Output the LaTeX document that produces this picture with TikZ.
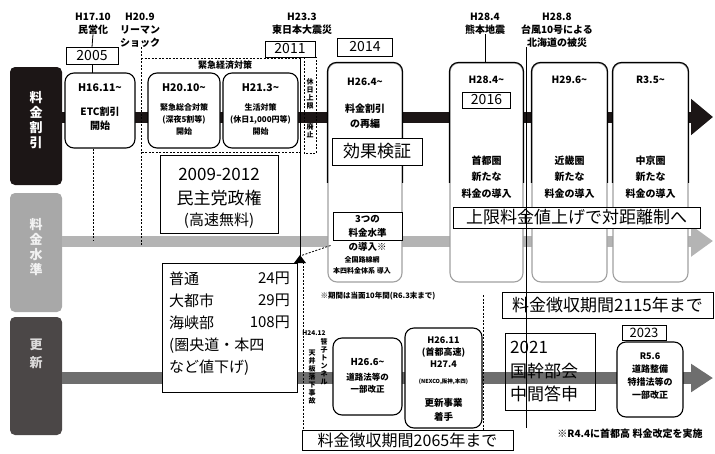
\documentclass[tikz,border=0pt]{standalone}
\usepackage{fontspec}
\setmainfont{Noto Sans CJK JP}
\usetikzlibrary{arrows.meta}
\newcommand\fsz[1]{\fontsize{#1}{#1}\selectfont}
\definecolor{labA}{HTML}{1C1616}
\definecolor{labB}{HTML}{A8A8A8}
\definecolor{labC}{HTML}{4B4747}
\definecolor{arrB}{HTML}{B4B4B4}
\definecolor{arrC}{HTML}{6E6E6E}
\definecolor{edgeG}{HTML}{A0A0A0}
\begin{document}
\begin{tikzpicture}[x=1pt,y=-1pt,
  wh/.style 2 args={minimum width=#1pt, minimum height=#2pt},
  lab/.style={rounded corners=5pt, minimum width=52pt, inner sep=0pt},
  year/.style={draw, line width=1pt, fill=white, inner sep=0pt, font=\fsz{14}},
  rb/.style={draw, line width=1.1pt, rounded corners=9pt, fill=white, inner sep=0pt},
  sq/.style={draw, line width=1pt, fill=white, inner sep=0pt},
  t/.style={inner sep=0pt, font=\bfseries\fontsize{9}{11.5}\selectfont, align=center},
  hd/.style={inner sep=0pt, font=\bfseries\fontsize{10}{13}\selectfont, align=center},
  big/.style={inner sep=0pt, font=\fsz{17}},
  dsh/.style={dash pattern=on 2pt off 1.5pt, line width=0.9pt},
  vt/.style={inner sep=0pt, font=\bfseries\fontsize{7}{8}\selectfont, align=center}
]
\useasboundingbox (0,0) rectangle (715,453);

% row labels
\node[lab, fill=labA, minimum height=118pt] (L1) at (36,126) {};
\node[text=white, font=\bfseries\fontsize{13}{15}\selectfont, align=center] (L1t) at (36,120) {料\\金\\割\\引};
\node[lab, fill=labB, minimum height=119pt] (L2) at (36,252.5) {};
\node[text=white!85!labB, font=\bfseries\fontsize{13}{15}\selectfont, align=center] (L2t) at (36,247) {料\\金\\水\\準};
\node[lab, fill=labC, minimum height=118pt] (L3) at (36,376) {};
\node[text=white!80!labC, font=\bfseries\fontsize{13}{18}\selectfont, align=center] (L3t) at (36,354) {更\\新};

% row arrows
\coordinate (a1e) at (713,117);
\coordinate (a2e) at (713,241);
\coordinate (a3e) at (713,378);
\draw[line width=11pt, labA, -{Triangle[length=22pt,width=35pt]}] (L1.east |- a1e) -- (a1e);
\draw[line width=11pt, arrB, -{Triangle[length=22pt,width=30pt]}] (L2.east |- a2e) -- (a2e);
\draw[line width=12pt, arrC, -{Triangle[length=22pt,width=27pt]}] (L3.east |- a3e) -- (a3e);

% header events
\node[hd] (h1) at (93,23.5) {H17.10\\民営化};
\node[hd] (h2) at (140,30) {H20.9\\リーマン\\ショック};
\node[hd] (h3) at (302,23.5) {H23.3\\東日本大震災};
\node[hd] (h4) at (485,23.5) {H28.4\\熊本地震};
\node[hd] (h5) at (557,30) {H28.8\\台風10号による\\北海道の被災};

% dashed period lines
\coordinate (d1e) at (141,245);
\draw[dsh] (h2.south -| d1e) -- (d1e);
\coordinate (d2e) at (93,240);
\coordinate (d3s) at (303,262);
\coordinate (d3e) at (303,430);
\draw[dsh] (d3s) -- (d3e);
\coordinate (d4s) at (483,295);
\coordinate (d4e) at (483,430);
\draw[dsh] (d4s) -- (d4e);

% emergency measures frame
\draw[dsh] (141,58) -- (300,58) -- (300,152) -- (141,152);
\node[t, font=\bfseries\fsz{9}] (kinkyu) at (225,65) {緊急経済対策};

% 2005 and ETC
\node[year, wh={52}{17}] (y05) at (92,56) {2005};
\draw[line width=0.8pt] (h1.south) -- (y05.north);
\node[rb, wh={70}{75}] (etc) at (100,110.5) {};
\draw[line width=0.8pt] (y05.south -| etc.north) ++(-8,0) -- ++(0,8);
\draw[dsh] (etc.south -| d2e) -- (d2e);
\node[t, font=\bfseries\fsz{10.5}] (etc1) at (100,88) {H16.11\textasciitilde};
\node[t, font=\bfseries\fontsize{10}{13.5}\selectfont] (etc2) at (100,119) {ETC割引\\開始};

\node[rb, wh={72}{75}] (b2010) at (184,110.5) {};
\node[t, font=\bfseries\fsz{10.5}] (b2010a) at (184,88) {H20.10\textasciitilde};
\node[t, font=\bfseries\fontsize{8}{12}\selectfont] (b2010b) at (184,119) {緊急総合対策\\(深夜5割等)\\開始};
\node[rb, wh={75}{75}] (b2103) at (260.5,110.5) {};
\node[t, font=\bfseries\fsz{10.5}] (b2103a) at (260.5,88) {H21.3\textasciitilde};
\node[t, font=\bfseries\fontsize{8}{12}\selectfont] (b2103b) at (260.5,119) {生活対策\\(休日1,000円等)\\開始};

% 2011
\node[year, wh={50}{16}] (y11) at (290,49) {2011};
\draw[dsh] (304,57) rectangle (316,153);
\node[vt, font=\bfseries\fontsize{7}{7.8}\selectfont] (kyu) at (310,94) {休\\日\\上\\限};
\node[vt, font=\bfseries\fontsize{7}{7.8}\selectfont] (haishi) at (310,131) {廃\\止};
\node[sq, wh={118}{78}] (minshu) at (219,194) {};
\node[big] (m1) at (219,174) {2009-2012};
\node[big] (m2) at (219,198) {民主党政権};
\node[big, font=\fsz{15}] (m3) at (219,221) {(高速無料)};

% fee levels box
\node[sq, wh={135}{129}] (futsu) at (229.5,327.5) {};
\node[inner sep=0pt, font=\fontsize{15}{22}\selectfont, align=left, anchor=north west] (f1) at (169,272) {普通\\大都市\\海峡部};
\node[inner sep=0pt, font=\fontsize{15}{22}\selectfont, align=right, anchor=north east] (f2) at (290,272) {24円\\29円\\108円};
\node[inner sep=0pt, font=\fontsize{15}{22}\selectfont, align=left, anchor=north west] (f3) at (169,338) {(圏央道・本四\\など値下げ)};
\coordinate (tri) at (300,256);
\draw[line width=0.9pt] (y11.south -| tri) -- (tri);
\fill (tri) ++(0,-1) -- ++(6,8) -- ++(-12,0) -- cycle;

% 2014
\node[year, wh={55}{18}] (y14) at (365,47) {2014};
\node[rb, draw=edgeG, wh={74}{219}] (b14) at (365,172.5) {};
\begin{scope}
\clip (320,0) rectangle (715,182);
\draw[line width=1.1pt, rounded corners=9pt] (b14.south west) rectangle (b14.north east);
\end{scope}
\node[t, font=\bfseries\fsz{10}] (b14a) at (365,82) {H26.4\textasciitilde};
\node[t, font=\bfseries\fontsize{10}{15}\selectfont] (b14b) at (365,116) {料金割引\\の再編};
\node[sq, wh={90}{27}] (kouka) at (377,151.5) {};
\node[big] (kouka1) at (377,151.5) {効果検証};
\node[sq, wh={69}{28}] (ps3) at (367.5,226) {};
\node[t, font=\bfseries\fontsize{9.5}{14}\selectfont] (ps3a) at (367.5,233) {3つの\\料金水準\\の導入※};
\node[t, font=\bfseries\fontsize{7}{11}\selectfont] (ps3b) at (362,265.5) {全国路線網\\本四料金体系 導入};
\draw[dsh, line width=0.8pt] (ps3.south west) ++(-2,5) -- (tri);
\node[t, font=\bfseries\fsz{7.5}] (kikan) at (378,296) {※期間は当面10年間(R6.3末まで)};

% 2016 onward
\node[rb, draw=edgeG, wh={73}{219}] (b16) at (486.5,172.5) {};
\node[rb, draw=edgeG, wh={75}{219}] (b17) at (569.5,172.5) {};
\node[rb, draw=edgeG, wh={75}{219}] (b21) at (650.5,172.5) {};
\begin{scope}
\clip (440,0) rectangle (715,182);
\draw[line width=1.1pt, rounded corners=9pt] (b16.south west) rectangle (b16.north east);
\draw[line width=1.1pt, rounded corners=9pt] (b17.south west) rectangle (b17.north east);
\draw[line width=1.1pt, rounded corners=9pt] (b21.south west) rectangle (b21.north east);
\end{scope}
\draw[line width=0.8pt] (h4.south) -- (b16.north -| h4.south);
\node[t, font=\bfseries\fsz{10}] (b16a) at (486.5,80) {H28.4\textasciitilde};
\node[year, wh={48}{16}] (y16) at (486.5,100) {2016};
\node[t, font=\bfseries\fontsize{10}{16.5}\selectfont] (b16b) at (486.5,177) {首都圏\\新たな\\料金の導入};
\node[t, font=\bfseries\fsz{10}] (b17a) at (569.5,80) {H29.6\textasciitilde};
\node[t, font=\bfseries\fontsize{10}{16.5}\selectfont] (b17b) at (569.5,177) {近畿圏\\新たな\\料金の導入};
\node[t, font=\bfseries\fsz{10}] (b21a) at (650.5,80) {R3.5\textasciitilde};
\node[t, font=\bfseries\fontsize{10}{16.5}\selectfont] (b21b) at (650.5,177) {中京圏\\新たな\\料金の導入};
\node[sq, wh={247}{21}] (jogen) at (576.5,217.5) {};
\node[big] (jogen1) at (576.5,217.5) {上限料金値上げで対距離制へ};
\node[sq, wh={211}{26}] (c2115) at (607.5,305) {};
\node[big] (c2115t) at (607.5,305) {料金徴収期間2115年まで};

% renewal row
\node[t, font=\bfseries\fsz{6.5}] (h2412) at (314,333) {H24.12};
\node[vt] (sasago) at (324,362) {笹\\子\\ト\\ン\\ネ\\ル};
\node[vt] (tenjo) at (312,377) {天\\井\\板\\落\\下\\事\\故};
\node[rb, wh={69}{77}] (b266) at (367.5,376.5) {};
\node[t, font=\bfseries\fsz{9.5}] (b266a) at (367.5,362) {H26.6\textasciitilde};
\node[t, font=\bfseries\fontsize{8.5}{12}\selectfont] (b266b) at (367.5,383) {道路法等の\\一部改正};
\node[rb, wh={77}{100}] (b2611) at (443.5,378) {};
\node[t, font=\bfseries\fontsize{9}{12}\selectfont] (b2611a) at (443.5,352) {H26.11\\(首都高速)\\H27.4};
\node[t, font=\bfseries\fsz{5.5}] (b2611b) at (443.5,382) {(NEXCO,阪神,本四)};
\node[t, font=\bfseries\fontsize{9.5}{14}\selectfont] (b2611c) at (443.5,410) {更新事業\\着手};
\node[sq, wh={211}{20}] (c2065) at (407.5,440) {};
\node[big, font=\fsz{16}] (c2065t) at (407.5,440) {料金徴収期間2065年まで};

\node[sq, wh={90}{77}, fill=none] (kokkan) at (550,371.5) {};
\node[inner sep=0pt, font=\fontsize{17}{23.5}\selectfont, align=left, anchor=north west] (kokkant) at (510,341) {2021\\国幹部会\\中間答申};

\node[year, wh={44}{15}, font=\fsz{13}] (y23) at (644,333) {2023};
\node[rb, wh={66}{75}] (b56) at (650,379.5) {};
\node[t, font=\bfseries\fontsize{9}{13}\selectfont] (b56t) at (650,376) {R5.6\\道路整備\\特措法等の\\一部改正};
\node[t, font=\bfseries\fsz{10}] (r44) at (630,434) {※R4.4に首都高 料金改定を実施};

% H28.8 marker line on top
\coordinate (h5end) at (526,428);
\draw[line width=0.9pt] (h5.south -| h5end) -- (h5end);
\end{tikzpicture}
\end{document}
